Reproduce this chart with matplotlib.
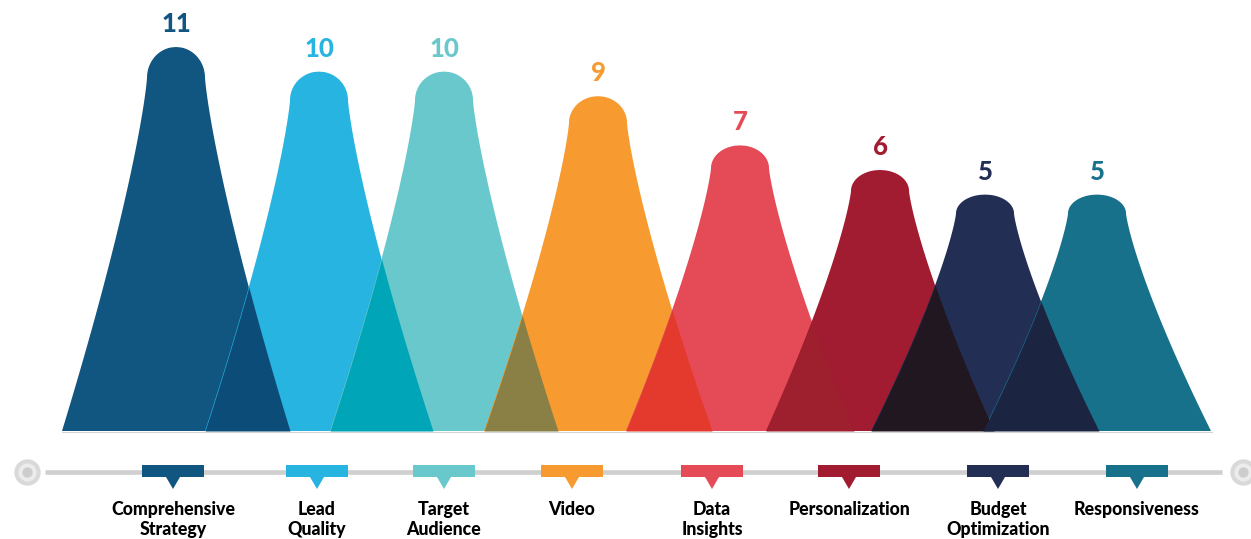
import numpy as np
import matplotlib
matplotlib.use("Agg")
import matplotlib.pyplot as plt

# ---- data -------------------------------------------------------------
categories = ["Comprehensive\nStrategy", "Lead\nQuality", "Target\nAudience", "Video",
              "Data\nInsights", "Personalization", "Budget\nOptimization", "Responsiveness"]
values = [11, 10, 10, 9, 7, 6, 5, 5]
colors = ["#115581", "#27B4E1", "#69C8CB", "#F79A30",
          "#E54A57", "#A21C31", "#232E55", "#17718B"]
# colour where two neighbouring peaks overlap
overlap_colors = ["#0C4C78", "#00A6B8", "#8A8045", "#E4392D",
                  "#9E1F2E", "#211720", "#1B2542"]

# ---- layout (figure pixels) ------------------------------------------
W, H = 1251, 539
peak_x = [176, 319, 444, 598, 740, 880, 985, 1097]
marker_x = [173, 317, 444, 572, 712, 849, 998, 1137]
BASE_PX = 431
PX_PER_UNIT = 24.6
BASE_VAL = -4.61
CAP_HW = 29      # half width of the rounded top
BASE_HW = 114    # half width at the base
CAP_FRAC = 0.08


def yv(p):
    """pixel row -> value axis"""
    return BASE_VAL + (BASE_PX - p) / PX_PER_UNIT


def half_width(f):
    """half width of a peak as function of depth fraction from its top"""
    f = np.clip(f, 0, 1)
    cap = CAP_HW * np.sqrt(np.clip(1 - (1 - f / CAP_FRAC) ** 2, 0, 1))
    g = np.clip((f - CAP_FRAC) / (1 - CAP_FRAC), 0, 1)
    flank = CAP_HW + (BASE_HW - CAP_HW) * (0.1 * g + 0.9 * g ** 1.3)
    return np.where(f < CAP_FRAC, cap, flank)


def edges(cx, v, y):
    f = (v - y) / (v - BASE_VAL)
    hw = np.where(y <= v, half_width(f), np.nan)
    return cx - hw, cx + hw


fig = plt.figure(figsize=(W / 100, H / 100), dpi=100)
ax = fig.add_axes([0, 0, 1, 1])
ax.set_xlim(0, W)
ax.set_ylim(yv(H), yv(0))
ax.axis("off")

# ---- peaks ------------------------------------------------------------
for cx, v, c in zip(peak_x, values, colors):
    y = np.linspace(BASE_VAL, v, 800)
    left, right = edges(cx, v, y)
    ax.fill(np.concatenate([left, right[::-1]]),
            np.concatenate([y, y[::-1]]), color=c, lw=0, zorder=2)

# overlaps between neighbours
for i in range(len(values) - 1):
    top = min(values[i], values[i + 1])
    y = np.linspace(BASE_VAL, top, 800)
    l1, r1 = edges(peak_x[i], values[i], y)
    l2, r2 = edges(peak_x[i + 1], values[i + 1], y)
    lo = np.maximum(l1, l2)
    hi = np.minimum(r1, r2)
    ok = lo < hi
    ax.fill_betweenx(y, lo, hi, where=ok, interpolate=True,
                     color=overlap_colors[i], lw=0, zorder=3)

# faint ground line
ax.plot([62, 1212], [yv(431.5), yv(431.5)], color="#d4d4d4", lw=0.8, zorder=1)

# value labels
for cx, v, c in zip(peak_x, values, colors):
    ax.text(cx, v + 15 / PX_PER_UNIT, str(v), ha="center", va="baseline",
            fontsize=18.5, fontweight=900, family="Lato", color=c, zorder=5)

# ---- timeline ---------------------------------------------------------
ty = yv(471.5)
ax.plot([45, 1222], [ty, ty], color="#cfcfcf", lw=3.3, solid_capstyle="butt", zorder=1)
for ex in (27, 1243):
    ax.scatter([ex], [ty], s=360, color="#d9d9d9", lw=0, zorder=2)
    ax.scatter([ex], [ty], s=170, color="#ececec", lw=0, zorder=3)
    ax.scatter([ex], [ty], s=55, color="#cdcdcd", lw=0, zorder=4)

for mx, c, lab in zip(marker_x, colors, categories):
    px = [mx - 31, mx + 31, mx + 31, mx + 7, mx, mx - 7, mx - 31]
    py = [465, 465, 477, 477, 489, 477, 477]
    ax.fill(px, [yv(p) for p in py], color=c, lw=0, zorder=4)
    for k, line in enumerate(lab.split("\n")):
        ax.text(mx, yv(515 + 20 * k), line, ha="center", va="baseline",
                fontsize=12.8, fontweight=900, family="Lato", color="#000000")

fig.savefig("out.png", dpi=100)
